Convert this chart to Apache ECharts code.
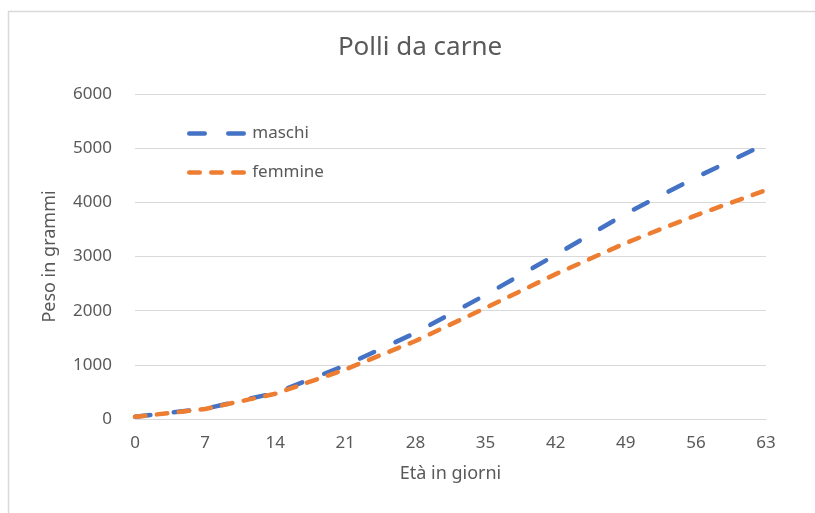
<!DOCTYPE html>
<html>
<head>
<meta charset="utf-8">
<script src="https://cdn.jsdelivr.net/npm/echarts@6/dist/echarts.min.js"></script>
<style>
html,body{margin:0;padding:0;background:#fff;}
#c{width:815px;height:513px;}
</style>
</head>
<body>
<div id="c"></div>
<script>
const days = [0, 7, 14, 21, 28, 35, 42, 49, 56, 63];
const maschi = [40, 190, 480, 990, 1590, 2290, 3030, 3790, 4460, 5080];
const femmine = [40, 185, 465, 915, 1440, 2050, 2675, 3250, 3760, 4225];
const seriesNames = ['maschi', 'femmine'];
const titleText = 'Polli da carne';
const xName = 'Età in giorni';
const yName = 'Peso in grammi';

const font = 'Noto Sans';
const txt = '#595959';
const blue = '#4472C4', orange = '#ED7D31';
const dashM = [15.5, 23.5], dashF = [10.5, 11.5];
const chart = echarts.init(document.getElementById('c'), null, {renderer: 'canvas'});
chart.setOption({
  backgroundColor: '#fff',
  animation: false,
  graphic: [{
    type: 'rect', left: 6, top: 9,
    shape: {width: 1000, height: 1000},
    style: {fill: 'none', stroke: '#d9d9d9', lineWidth: 1.5},
    silent: true
  }],
  title: {
    text: titleText, left: 415, top: 30, textAlign: 'center',
    textStyle: {fontFamily: font, fontSize: 26, fontWeight: 'normal', color: txt}
  },
  legend: {
    orient: 'vertical', left: 182, top: 120,
    itemWidth: 58, itemHeight: 16, itemGap: 22,
    textStyle: {fontFamily: font, fontSize: 17, color: txt},
    itemStyle: {opacity: 0},
    data: [
      {name: seriesNames[0], itemStyle: {opacity: 0}, lineStyle: {color: blue, width: 4.5, type: dashM, cap: 'round'}},
      {name: seriesNames[1], itemStyle: {opacity: 0}, lineStyle: {color: orange, width: 4.5, type: dashF, cap: 'round'}}
    ]
  },
  grid: {left: 135, right: 49, top: 94, bottom: 94, containLabel: false},
  xAxis: {
    type: 'value', min: 0, max: 63, interval: 7,
    name: xName, nameLocation: 'middle', nameGap: 46,
    nameTextStyle: {fontFamily: font, fontSize: 18, color: txt},
    axisLine: {show: true, lineStyle: {color: '#d9d9d9', width: 1}},
    axisTick: {show: false},
    splitLine: {show: false},
    axisLabel: {fontFamily: font, fontSize: 17, color: txt, margin: 16}
  },
  yAxis: {
    type: 'value', min: 0, max: 6000, interval: 1000,
    name: yName, nameLocation: 'middle', nameGap: 76,
    nameTextStyle: {fontFamily: font, fontSize: 18, color: txt},
    axisLine: {show: false}, axisTick: {show: false},
    splitLine: {lineStyle: {color: '#d9d9d9', width: 1}},
    axisLabel: {fontFamily: font, fontSize: 17, color: txt, margin: 23, formatter: v => String(v)}
  },
  series: [
    {
      name: seriesNames[0], type: 'line', symbol: 'none', smooth: false,
      data: days.map((d, i) => [d, maschi[i]]),
      itemStyle: {color: blue},
      lineStyle: {color: blue, width: 4.5, type: dashM, cap: 'round'}
    },
    {
      name: seriesNames[1], type: 'line', symbol: 'none', smooth: false,
      data: days.map((d, i) => [d, femmine[i]]),
      itemStyle: {color: orange},
      lineStyle: {color: orange, width: 4.5, type: dashF, cap: 'round'}
    }
  ]
});
</script>
</body>
</html>
